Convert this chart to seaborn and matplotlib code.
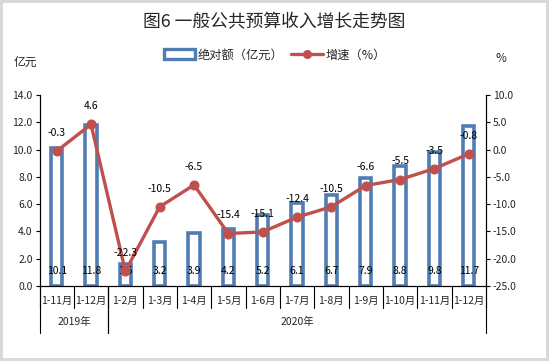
import numpy as np
import pandas as pd
import matplotlib
matplotlib.use("Agg")
import matplotlib.pyplot as plt
from matplotlib.lines import Line2D
from matplotlib.patches import Patch
import seaborn as sns

# data
months = ["1-11月", "1-12月", "1-2月", "1-3月", "1-4月", "1-5月", "1-6月",
          "1-7月", "1-8月", "1-9月", "1-10月", "1-11月", "1-12月"]
years = ["2019年", "2020年"]
year_spans = [(0, 2), (2, 13)]  # category index ranges for each year
amount = [10.1, 11.8, 1.6, 3.2, 3.9, 4.2, 5.2, 6.1, 6.7, 7.9, 8.8, 9.8, 11.7]
growth = [-0.3, 4.6, -22.3, -10.5, -6.5, -15.4, -15.1, -12.4, -10.5, -6.6, -5.5, -3.5, -0.8]

bar_color = "#4F7DB3"
line_color = "#C0504D"

sns.set_theme(style="white")
plt.rcParams["font.family"] = ["Noto Sans CJK SC", "DejaVu Sans"]
plt.rcParams["axes.unicode_minus"] = False

df = pd.DataFrame({"pos": np.arange(len(months)), "amount": amount, "growth": growth})

fig = plt.figure(figsize=(5.49, 3.61), dpi=100, edgecolor="#d9d9d9", linewidth=3)
ax = fig.add_axes([0.072, 0.208, 0.813, 0.529])

sns.barplot(data=df, x="pos", y="amount", ax=ax, fill=False, color=bar_color,
            linewidth=2.6, width=0.33, native_scale=True, errorbar=None)
ax.set_xlim(-0.5, len(months) - 0.5)
ax.set_ylim(0, 14)
ax.set_yticks(np.arange(0, 14.1, 2))
ax.set_yticklabels([f"{v:.1f}" for v in np.arange(0, 14.1, 2)], fontsize=7.5)
ax.set_xticks([])
ax.set_xlabel("")
ax.set_ylabel("")
ax.tick_params(axis="y", which="both", length=3, width=0.8, pad=2, left=True, color="black")

# bar value labels at the base
for i, v in enumerate(amount):
    ax.text(i, 1.1, f"{v:.1f}", ha="center", va="center", fontsize=7.5, color="black")

ax2 = ax.twinx()
sns.lineplot(data=df, x="pos", y="growth", ax=ax2, color=line_color, linewidth=2.4,
             marker="o", markersize=6.5, markeredgecolor=line_color)
ax2.set_ylim(-25, 10)
ax2.set_yticks(np.arange(-25, 10.1, 5))
ax2.set_yticklabels([f"{v:.1f}" for v in np.arange(-25, 10.1, 5)], fontsize=7.5)
ax2.set_xlim(-0.5, len(months) - 0.5)
ax2.set_ylabel("")
ax2.set_xlabel("")
ax2.tick_params(axis="y", length=3, width=0.8, pad=2, right=True, color="black")

for i, g in enumerate(growth):
    ax2.annotate(f"{g:.1f}", (i, g), xytext=(0, 13), textcoords="offset points",
                 ha="center", va="center", fontsize=7.5, color="black")

for a in (ax, ax2):
    for s in ["left", "right", "bottom"]:
        a.spines[s].set_color("black")
        a.spines[s].set_linewidth(0.8)
    a.spines["top"].set_visible(False)
    a.grid(False)

# two-level category axis
trans = ax.get_xaxis_transform()
n = len(months)
for i in range(n + 1):
    ax.plot([i - 0.5, i - 0.5], [0, -0.115], transform=trans, color="black",
            lw=0.8, clip_on=False)
for i, m in enumerate(months):
    ax.text(i, -0.079, m, transform=trans, ha="center", va="center", fontsize=7.5)
for (s, e), y in zip(year_spans, years):
    for b in (s, e):
        ax.plot([b - 0.5, b - 0.5], [0, -0.246], transform=trans, color="black",
                lw=0.8, clip_on=False)
    ax.text((s + e - 1) / 2, -0.19, y, transform=trans, ha="center", va="center", fontsize=7.5)

fig.text(0.5, 0.938, "图6 一般公共预算收入增长走势图", ha="center", va="center", fontsize=12.8)
fig.text(0.046, 0.828, "亿元", ha="center", va="center", fontsize=8.5)
fig.text(0.912, 0.838, "%", ha="center", va="center", fontsize=8.5)

handles = [Patch(facecolor="white", edgecolor=bar_color, linewidth=2.4, label="绝对额（亿元）"),
           Line2D([0], [0], color=line_color, lw=2.4, marker="o", markersize=5.5, label="增速（%）")]
fig.legend(handles=handles, loc="center", bbox_to_anchor=(0.5, 0.848), ncol=2, frameon=False,
           fontsize=8.8, handlelength=2.6, handleheight=0.8, columnspacing=0.6, handletextpad=0.2)

fig.savefig("out.png", dpi=100, edgecolor=fig.get_edgecolor())
